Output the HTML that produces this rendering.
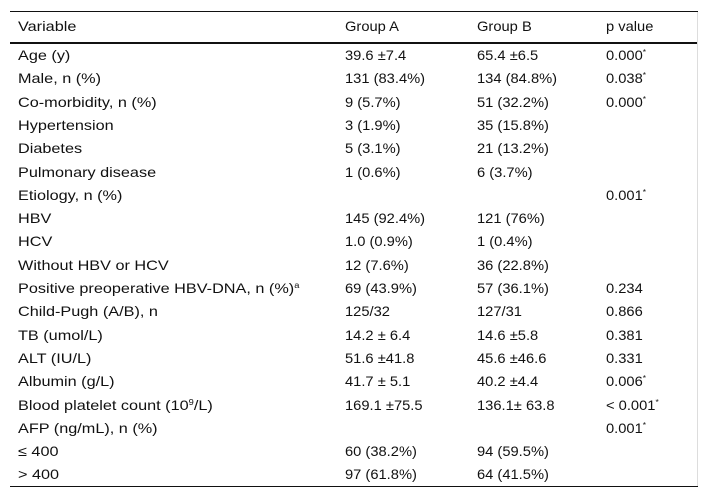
<!DOCTYPE html>
<html><head><meta charset="utf-8"><style>
body{margin:0;width:708px;height:499px;background:#fff;font-family:"Liberation Sans",sans-serif;font-size:14px;color:#111;position:relative;overflow:hidden}
.ln{position:absolute;left:10px;width:688px;background:#111}
.r{position:absolute;left:0;width:708px;height:23.3px}
.r span{position:absolute;top:0;height:23.3px;line-height:23.3px;white-space:nowrap;transform-origin:left center}
.c0{left:18px;transform:scaleX(1.16)}
.c1{left:345px;transform:scaleX(1.05)}.c2{left:477px;transform:scaleX(1.05)}.c3{left:606px;transform:scaleX(1.05)}
sup{font-size:8px;vertical-align:5px;line-height:0}
</style></head><body>
<div class="ln" style="top:11px;height:1px"></div>
<div class="ln" style="top:42px;height:2px"></div>
<div class="ln" style="top:486px;height:1px"></div>
<div style="position:absolute;left:697px;top:12px;width:1px;height:474px;background:#ddd"></div>
<div class="r" style="top:15px"><span class="c0">Variable</span><span class="c1">Group A</span><span class="c2">Group B</span><span class="c3">p value</span></div>
<div id="body"></div>
<script>
const rows=[
["Age (y)","39.6 ±7.4","65.4 ±6.5","0.000*"],
["Male, n (%)","131 (83.4%)","134 (84.8%)","0.038*"],
["Co-morbidity, n (%)","9 (5.7%)","51 (32.2%)","0.000*"],
["Hypertension","3 (1.9%)","35 (15.8%)",""],
["Diabetes","5 (3.1%)","21 (13.2%)",""],
["Pulmonary disease","1 (0.6%)","6 (3.7%)",""],
["Etiology, n (%)","","","0.001*"],
["HBV","145 (92.4%)","121 (76%)",""],
["HCV","1.0 (0.9%)","1 (0.4%)",""],
["Without HBV or HCV","12 (7.6%)","36 (22.8%)",""],
["Positive preoperative HBV-DNA, n (%)<sup>a</sup>","69 (43.9%)","57 (36.1%)","0.234"],
["Child-Pugh (A/B), n","125/32","127/31","0.866"],
["TB (umol/L)","14.2 ± 6.4","14.6 ±5.8","0.381"],
["ALT (IU/L)","51.6 ±41.8","45.6 ±46.6","0.331"],
["Albumin (g/L)","41.7 ± 5.1","40.2 ±4.4","0.006*"],
["Blood platelet count (10<sup>9</sup>/L)","169.1 ±75.5","136.1± 63.8","&lt; 0.001*"],
["AFP (ng/mL), n (%)","","","0.001*"],
["≤ 400","60 (38.2%)","94 (59.5%)",""],
["> 400","97 (61.8%)","64 (41.5%)",""]];
const b=document.getElementById('body');
rows.forEach((r,i)=>{
 const d=document.createElement('div');d.className='r';d.style.top=(44+i*23.3)+'px';
 
 
 r.forEach((t,j)=>{const s=document.createElement('span');s.className='c'+j;
  
  
  s.innerHTML=t.startsWith('<')?t:t.replace('*','<sup>*</sup>');d.appendChild(s);});
 b.appendChild(d);
});
</script>
</body></html>
